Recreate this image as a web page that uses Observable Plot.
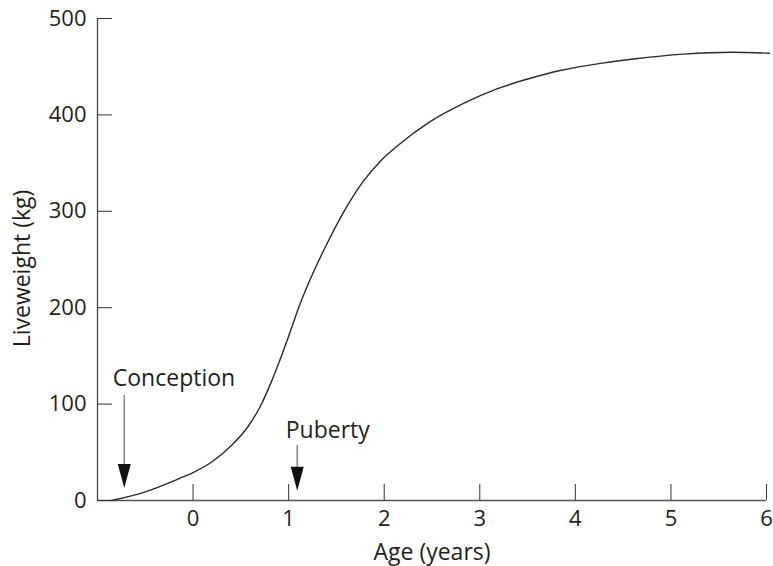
<!DOCTYPE html>
<html>
<head>
<meta charset="utf-8">
<script src="https://cdn.jsdelivr.net/npm/d3@7"></script>
<script src="https://cdn.jsdelivr.net/npm/@observablehq/plot@0.6"></script>
<style>
  html, body { margin: 0; padding: 0; background: #fff; }
  #chart svg { display: block; }
</style>
</head>
<body>
<div id="chart"></div>
<script>
// Data
const ageYears = [-0.85, -0.5, -0.14, 0, 0.21, 0.39, 0.57, 0.7, 0.81, 0.91, 1.02, 1.12, 1.26, 1.43, 1.61, 1.78, 1.96, 2.14, 2.48, 2.83, 3.18, 3.53, 3.84, 4.3, 4.61, 5.13, 5.65, 6.03];
const liveweightKg = [0, 9, 23, 29, 41, 56, 76, 97, 121, 146, 176, 204, 237, 272, 305, 331, 352, 368, 393, 412, 427, 438, 446, 454, 458, 463, 465, 464];

const xTicks = [0, 1, 2, 3, 4, 5, 6];
const yTicks = [0, 100, 200, 300, 400, 500];
const xDomain = [-1, 6];
const yDomain = [0, 500];

// Annotations (data units)
const annotLabels = ["Conception", "Puberty"];
const annotLabelX = [-0.84, 0.97];
const annotLabelY = [126, 73];
const arrowX = [-0.72, 1.09];
const arrowTopY = [109, 57];
const arrowTipY = [13, 10];

const curve = ageYears.map((a, i) => ({age: a, kg: liveweightKg[i]}));
const annots = annotLabels.map((t, i) => ({
  text: t, lx: annotLabelX[i], ly: annotLabelY[i],
  ax: arrowX[i], ay1: arrowTopY[i], ay2: arrowTipY[i]
}));

const headLen = 24, headHalf = 6.5;
const arrowHead = {
  draw(context) {
    context.moveTo(0, 0);
    context.lineTo(-headHalf, -headLen);
    context.lineTo(headHalf, -headLen);
    context.closePath();
  }
};

const font = "'Open Sans', 'DejaVu Sans', sans-serif";
const ink = "#231f20";
const fs = 22;
const fsLabel = 23;

const chart = Plot.plot({
  width: 773,
  height: 566,
  marginLeft: 97,
  marginRight: 7,
  marginTop: 18,
  marginBottom: 66,
  style: {fontFamily: font, fontSize: fs + "px", color: ink, background: "#fff"},
  x: {domain: xDomain},
  y: {domain: yDomain},
  marks: [
    Plot.ruleX([xDomain[0]], {y1: yDomain[0], y2: yDomain[1], stroke: "#444", strokeWidth: 1.3}),
    Plot.ruleY([yDomain[0]], {x1: xDomain[0], x2: xDomain[1], stroke: "#555", strokeWidth: 1.3}),
    Plot.axisX({ticks: xTicks, tickFormat: d3.format("d"), tickSize: -16, tickPadding: 26, label: null, stroke: "#333", fontSize: fs, fill: ink}),
    Plot.axisY({ticks: yTicks, tickFormat: d3.format("d"), tickSize: -15, tickPadding: 26, label: null, stroke: "#333", fontSize: fs, fill: ink}),
    Plot.line(curve, {x: "age", y: "kg", curve: "monotone-x", stroke: "#2a2a2a", strokeWidth: 1.4}),
    Plot.ruleX(annots, {x: "ax", y1: "ay1", y2: "ay2", stroke: "#8a8a8a", strokeWidth: 1.6, insetBottom: headLen - 2}),
    Plot.dot(annots, {x: "ax", y: "ay2", symbol: arrowHead, fill: "#111", stroke: "none"}),
    Plot.text(annots, {x: "lx", y: "ly", text: "text", textAnchor: "start", fontSize: fsLabel, fill: ink}),
    Plot.text(["Age (years)"], {frameAnchor: "bottom", textAnchor: "middle", lineAnchor: "middle", dy: 52, fontSize: fsLabel, fill: ink}),
    Plot.text(["Liveweight (kg)"], {frameAnchor: "left", textAnchor: "middle", lineAnchor: "middle", dx: -75, dy: 9, rotate: -90, fontSize: fsLabel, fill: ink})
  ]
});

document.getElementById("chart").appendChild(chart);
</script>
</body>
</html>
